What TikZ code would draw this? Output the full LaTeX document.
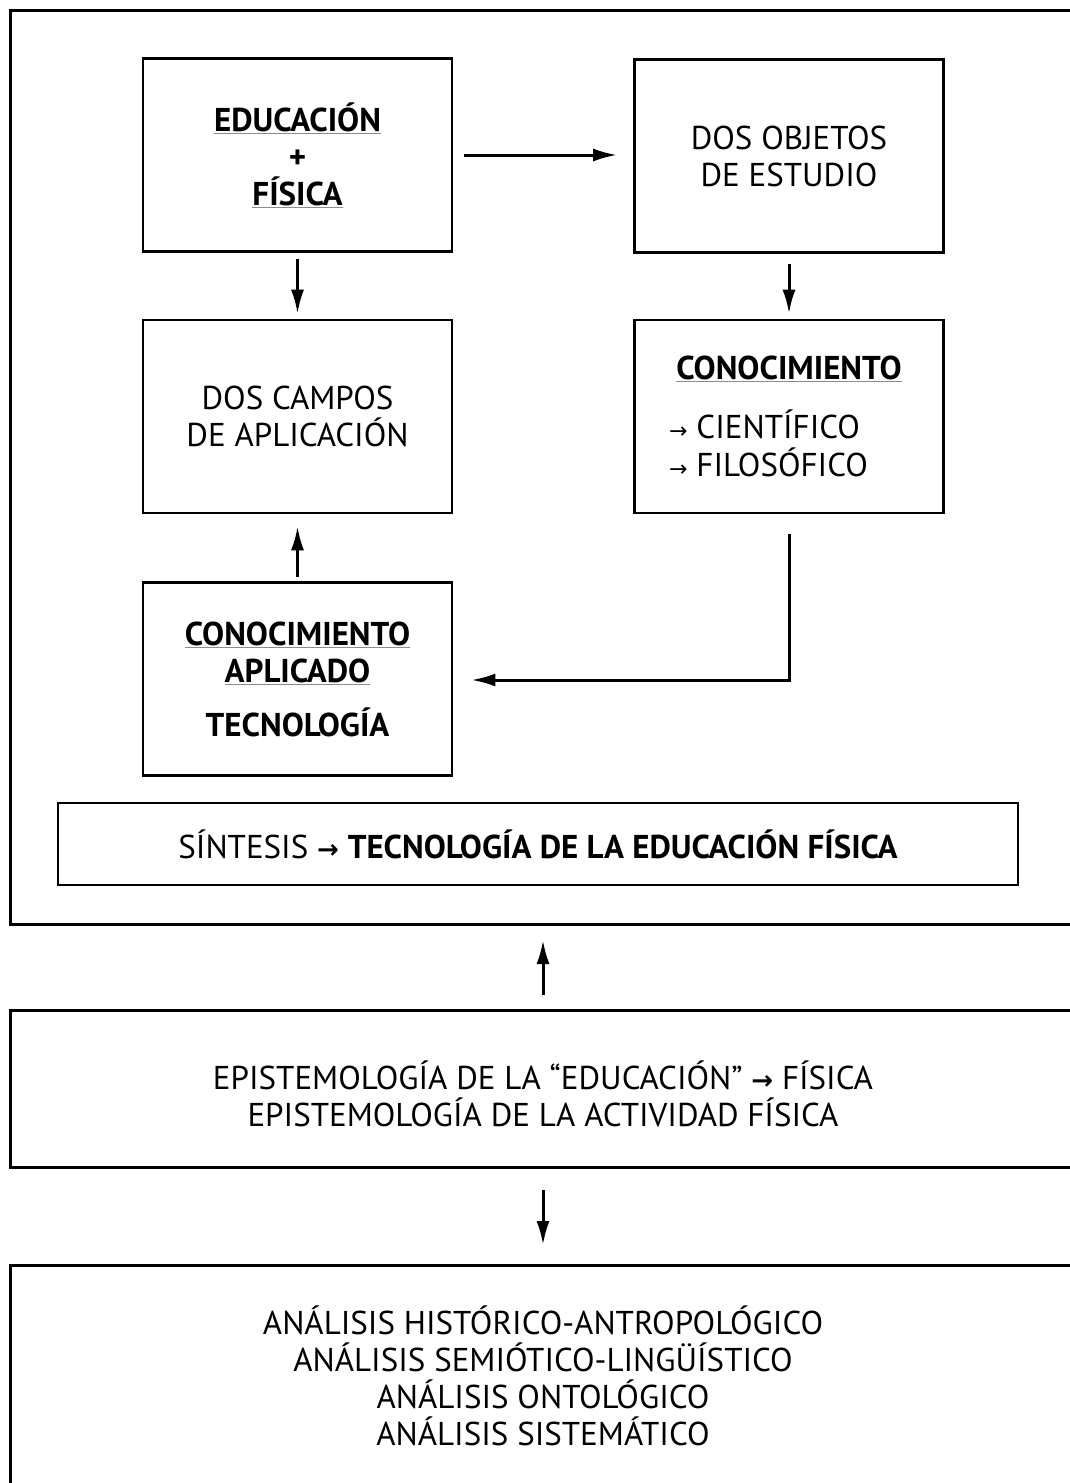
\documentclass[tikz,border=0pt]{standalone}
\usepackage{fontspec}
\setmainfont{PT Sans}
\newfontfamily\arrowfont{DejaVu Sans}
\usetikzlibrary{arrows.meta}
\newcommand\ulg[1]{{\color{black!45}\underline{\color{black}#1}}}
\tikzset{
  frame/.style={draw, line width=3pt, inner sep=0pt},
  box/.style={draw, line width=2.6pt, minimum width=309pt, minimum height=193pt, inner sep=0pt},
  txt/.style={align=center, font=\fontsize{33}{37}\selectfont, inner sep=0pt},
  arr/.style={line width=3pt, -{Latex[length=24pt,width=13pt]}}
}
\begin{document}
\begin{tikzpicture}[x=1pt,y=-1pt]
\useasboundingbox (0,0) rectangle (1069,1483);
% outer frames
\node[frame, minimum width=1110pt, minimum height=914pt] (top) at (565,467) {};
\node[frame, minimum width=1110pt, minimum height=157pt] (mid) at (565,1088.5) {};
\node[frame, minimum width=1110pt, minimum height=280pt] (bot) at (565,1405) {};
% inner boxes
\node[box] (edu) at (297.5,155) {};
\node[box] (obj) at (789,156) {};
\node[box] (campos) at (297.5,416.5) {};
\node[box] (conoc) at (789,416.5) {};
\node[box] (aplic) at (297.5,679) {};
\node[draw, line width=2.6pt, minimum width=960pt, minimum height=82pt, inner sep=0pt] (sint) at (538,844) {};
% texts
\node[txt] (edutxt) at (edu.center) {\bfseries\ulg{EDUCACIÓN}\\ \bfseries +\\ \bfseries\ulg{FÍSICA}};
\node[txt] (objtxt) at (obj.center) {DOS OBJETOS\\DE ESTUDIO};
\node[txt] (campostxt) at (campos.center) {DOS CAMPOS\\DE APLICACIÓN};
\node[txt, font=\fontsize{33}{37}\selectfont\bfseries] (conoctit) at (789,369) {\ulg{CONOCIMIENTO}};
\node[txt, anchor=west] (cien) at (669,424) {{\arrowfont\fontsize{22}{22}\selectfont →} CIENTÍFICO};
\node[txt, anchor=west] (filo) at (669,462) {{\arrowfont\fontsize{22}{22}\selectfont →} FILOSÓFICO};
\node[txt] (aplictxt) at (aplic.center) {\bfseries\ulg{CONOCIMIENTO}\\ \bfseries\ulg{APLICADO}\\[17pt] \bfseries TECNOLOGÍA};
\node[txt] (sinttxt) at (sint.center) {SÍNTESIS {\arrowfont\bfseries\fontsize{26}{26}\selectfont →} \bfseries TECNOLOGÍA DE LA EDUCACIÓN FÍSICA};
\node[txt] (midtxt) at (543,1093.5) {EPISTEMOLOGÍA DE LA “EDUCACIÓN” {\arrowfont\bfseries\fontsize{26}{26}\selectfont →} FÍSICA\\EPISTEMOLOGÍA DE LA ACTIVIDAD FÍSICA};
\node[txt] (bottxt) at (543,1375.5) {ANÁLISIS HISTÓRICO-ANTROPOLÓGICO\\ANÁLISIS SEMIÓTICO-LINGÜÍSTICO\\ANÁLISIS ONTOLÓGICO\\ANÁLISIS SISTEMÁTICO};
% connectors
\draw[arr, shorten <=11pt, shorten >=16pt] (edu.east) -- (edu.east -| obj.west);
\draw[arr, shorten <=6pt, shorten >=5pt] (edu.south) -- (campos.north);
\draw[arr, shorten <=10pt, shorten >=5pt] (obj.south) -- (conoc.north);
\draw[arr, shorten <=4pt, shorten >=12pt] (aplic.north) -- (campos.south);
\coordinate (elbow) at (789,680);
\draw[arr, shorten <=20pt, shorten >=18pt] (conoc.south) -- (elbow) -- (elbow -| aplic.east);
\coordinate (midtop) at (543,1010);
\coordinate (topbot) at (543,924);
\draw[arr, shorten <=15pt, shorten >=16pt] (midtop) -- (topbot);
\coordinate (midbot) at (543,1167);
\coordinate (bottop) at (543,1265);
\draw[arr, shorten <=23pt, shorten >=20pt] (midbot) -- (bottop);
\end{tikzpicture}
\end{document}
